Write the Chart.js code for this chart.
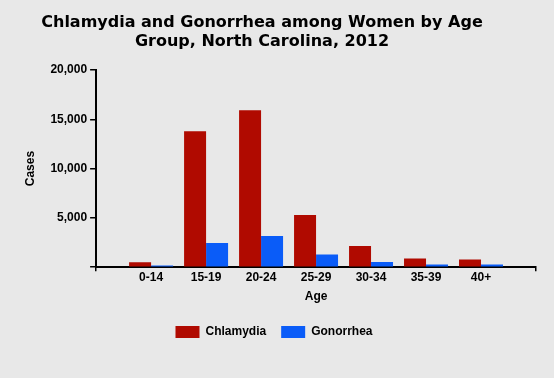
<!DOCTYPE html>
<html lang="en">
<head>
    <meta charset="UTF-8">
    <title>Chlamydia and Gonorrhea among Women by Age Group</title>
    <script src="https://cdn.jsdelivr.net/npm/chart.js"></script>
    <style>
        html, body { margin: 0; padding: 0; background: #e8e8e8; }
        #wrap { width: 554px; height: 378px; }
    </style>
</head>
<body>
<div id="wrap"><canvas id="chart"></canvas></div>
<script>
    // Age groups (blank slots at each end leave room like the original)
    const ageGroups = ['', '0-14', '15-19', '20-24', '25-29', '30-34', '35-39', '40+', ''];
    const chlamydia = [null, 510, 13780, 15920, 5300, 2150, 880, 780, null];
    const gonorrhea = [null, 170, 2450, 3160, 1290, 540, 270, 270, null];
    const yTicks = [0, 5000, 10000, 15000, 20000];
    const titleLines = ['Chlamydia and Gonorrhea among Women by Age', 'Group, North Carolina, 2012'];

    const tickFont = { family: 'Liberation Sans', size: 12, weight: 'bold' };

    // title sits a bit left of centre in the original, so draw it ourselves
    const titlePlugin = {
        id: 'topTitle',
        afterDraw(chart) {
            const c = chart.ctx;
            c.save();
            c.fillStyle = '#000';
            c.font = 'bold 16px "DejaVu Sans"';
            c.textAlign = 'center';
            c.textBaseline = 'alphabetic';
            c.fillText(titleLines[0], 262, 27);
            c.fillText(titleLines[1], 262, 46);
            c.restore();
        }
    };

    new Chart(document.getElementById('chart'), {
        type: 'bar',
        data: {
            labels: ageGroups,
            datasets: [{
                label: 'Chlamydia',
                data: chlamydia,
                backgroundColor: '#b00a00'
            }, {
                label: 'Gonorrhea',
                data: gonorrhea,
                backgroundColor: '#0a5cf8'
            }]
        },
        plugins: [titlePlugin],
        options: {
            responsive: true,
            maintainAspectRatio: false,
            animation: false,
            barPercentage: 1,
            categoryPercentage: 0.8,
            layout: { padding: { left: 12, right: 18, top: 70, bottom: 30 } },
            plugins: {
                title: { display: false },
                legend: {
                    position: 'bottom',
                    labels: {
                        color: '#000',
                        font: tickFont,
                        boxWidth: 24,
                        boxHeight: 12,
                        padding: 15
                    }
                },
                tooltip: { enabled: false }
            },
            scales: {
                x: {
                    offset: false,
                    border: { color: '#000', width: 2 },
                    grid: {
                        offset: false,
                        drawOnChartArea: false,
                        tickLength: 4,
                        lineWidth: 1.5,
                        color: ctx => (ctx.index === 0 || ctx.index === ageGroups.length - 1) ? '#000' : 'rgba(0,0,0,0)'
                    },
                    ticks: { color: '#000', font: tickFont, padding: -1, maxRotation: 0, autoSkip: false },
                    title: { display: true, text: 'Age', color: '#000', font: tickFont, padding: { top: 6, bottom: 7 } }
                },
                y: {
                    min: 0,
                    max: 20000,
                    afterBuildTicks: axis => { axis.ticks = yTicks.map(v => ({ value: v })); },
                    border: { color: '#000', width: 2 },
                    grid: { drawOnChartArea: false, tickLength: 6, color: '#000', lineWidth: 1.5 },
                    ticks: {
                        color: '#000',
                        font: tickFont,
                        padding: 3,
                        callback: v => v === 0 ? '' : v.toLocaleString('en-US')
                    },
                    title: { display: true, text: 'Cases', color: '#000', font: tickFont, padding: { top: 11, bottom: 10 } }
                }
            }
        }
    });
</script>
</body>
</html>
